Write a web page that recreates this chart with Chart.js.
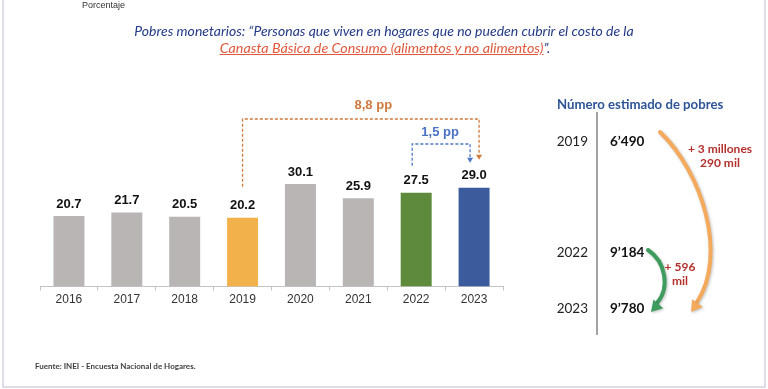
<!DOCTYPE html>
<html lang="es">
<head>
<meta charset="UTF-8">
<title>Pobres monetarios</title>
<script src="https://cdn.jsdelivr.net/npm/chart.js"></script>
<style>
  html, body { margin: 0; padding: 0; background: #fff; }
  #wrap { position: relative; width: 768px; height: 389px; overflow: hidden; }
  #frame { position: absolute; left: 2px; top: -4px; width: 760px; height: 388px; border: 2px solid #dedee6; box-sizing: content-box; }
  canvas { position: absolute; left: 0; top: 0; }
  .t { position: absolute; white-space: nowrap; font-family: Lato, sans-serif; }
</style>
</head>
<body>
<div id="wrap">
  <div id="frame"></div>
  <canvas id="povertyChart" width="768" height="389"></canvas>

  <div class="t" style="left:82px; top:0px; font:9px 'Liberation Sans', Arial; color:#333;">Porcentaje</div>
  <div class="t" style="left:0; width:768px; text-align:center; top:22px; font-style:italic; font-size:14px; color:#233a86;">Pobres monetarios: “Personas que viven en hogares que no pueden cubrir el costo de la</div>
  <div class="t" style="left:0; width:770px; text-align:center; top:39px; font-style:italic; font-size:14.3px; color:#233a86;">
    <span style="color:#e2583c; text-decoration:underline;">Canasta Básica de Consumo (alimentos y no alimentos)</span>”.
  </div>

  <div class="t" style="left:557px; top:96px; font-weight:bold; font-size:13.2px; color:#2f5597;">Número estimado de pobres</div>
  <div class="t" style="right:180px; top:133px; font-size:13.5px; color:#222;">2019</div>
  <div class="t" style="right:180px; top:244px; font-size:13.5px; color:#222;">2022</div>
  <div class="t" style="right:180px; top:300px; font-size:13.5px; color:#222;">2023</div>
  <div class="t" style="left:610px; top:133px; font-weight:bold; font-size:13.5px; color:#111;">6’490</div>
  <div class="t" style="left:610px; top:244px; font-weight:bold; font-size:13.5px; color:#111;">9’184</div>
  <div class="t" style="left:610px; top:300px; font-weight:bold; font-size:13.5px; color:#111;">9’780</div>
  <div class="t" style="left:684px; top:142px; width:72px; text-align:center; font-weight:bold; font-size:12px; line-height:14px; color:#b3302c;">+ 3 millones<br>290 mil</div>
  <div class="t" style="left:660px; top:260px; width:40px; text-align:center; font-weight:bold; font-size:12px; line-height:14px; color:#b3302c;">+ 596<br>mil</div>

  <div class="t" style="left:35px; top:361px; font-weight:bold; font-size:8px; color:#404040;">Fuente: INEI - Encuesta Nacional de Hogares.</div>
</div>

<script>
  // data
  const years = ['2016', '2017', '2018', '2019', '2020', '2021', '2022', '2023'];
  const povertyRate = [20.7, 21.7, 20.5, 20.2, 30.1, 25.9, 27.5, 29.0];
  const barColors = ['#b8b5b4', '#b8b5b4', '#b8b5b4', '#f2b14a', '#b8b5b4', '#b8b5b4', '#5e8a3c', '#3b5b9d'];
  const gapLabels = ['8,8 pp', '1,5 pp'];

  function arrowHead(ctx, x, y, angle, size, color) {
    ctx.save();
    ctx.translate(x, y);
    ctx.rotate(angle);
    ctx.fillStyle = color;
    ctx.beginPath();
    ctx.moveTo(0, 0);
    ctx.lineTo(-size, -size * 0.6);
    ctx.lineTo(-size, size * 0.6);
    ctx.closePath();
    ctx.fill();
    ctx.restore();
  }

  // value labels, dashed brackets and the curved arrows on the right
  const extras = {
    id: 'extras',
    afterDatasetsDraw(chart) {
      const ctx = chart.ctx;
      const meta = chart.getDatasetMeta(0);

      ctx.save();
      ctx.font = 'bold 13px "Liberation Sans", Arial';
      ctx.fillStyle = '#111';
      ctx.textAlign = 'center';
      ctx.textBaseline = 'middle';
      meta.data.forEach((bar, i) => {
        ctx.fillText(povertyRate[i].toFixed(1), bar.x, bar.y - 12);
      });

      // brackets
      const b19 = meta.data[3], b22 = meta.data[6], b23 = meta.data[7];
      ctx.setLineDash([3, 2]);
      ctx.lineWidth = 1.3;

      ctx.strokeStyle = '#d07a3c';
      ctx.beginPath();
      ctx.moveTo(b19.x, b19.y - 31);
      ctx.lineTo(b19.x, 119);
      ctx.lineTo(b23.x + 5, 119);
      ctx.lineTo(b23.x + 5, b23.y - 33);
      ctx.stroke();

      ctx.strokeStyle = '#4f77c4';
      ctx.beginPath();
      ctx.moveTo(b22.x - 4, b22.y - 27);
      ctx.lineTo(b22.x - 4, 144);
      ctx.lineTo(b23.x - 4, 144);
      ctx.lineTo(b23.x - 4, b23.y - 30);
      ctx.stroke();
      ctx.setLineDash([]);
      arrowHead(ctx, b23.x + 5, b23.y - 28, Math.PI / 2, 5, '#d07a3c');
      arrowHead(ctx, b23.x - 4, b23.y - 25, Math.PI / 2, 5, '#4f77c4');

      ctx.fillStyle = '#cf7a3e';
      ctx.fillText(gapLabels[0], (b19.x + b23.x) / 2 + 15, 105);
      ctx.fillStyle = '#4a72c4';
      ctx.fillText(gapLabels[1], (b22.x + b23.x) / 2 - 5, 132);

      // axis on the right
      ctx.strokeStyle = '#666';
      ctx.lineWidth = 1.2;
      ctx.beginPath();
      ctx.moveTo(597, 112);
      ctx.lineTo(597, 335);
      ctx.stroke();

      // curved arrows
      ctx.lineCap = 'round';
      ctx.shadowColor = 'rgba(0,0,0,0.25)';
      ctx.shadowBlur = 3;
      ctx.shadowOffsetX = 1;
      ctx.shadowOffsetY = 1;
      ctx.strokeStyle = '#f4aa5c';
      ctx.lineWidth = 4;
      ctx.beginPath();
      ctx.moveTo(660, 132);
      ctx.bezierCurveTo(702, 172, 728, 255, 697, 302);
      ctx.stroke();
      arrowHead(ctx, 691, 312, 2.2, 11, '#f4aa5c');

      ctx.strokeStyle = '#3f9c5f';
      ctx.beginPath();
      ctx.moveTo(648, 250);
      ctx.bezierCurveTo(666, 262, 670, 288, 657, 303);
      ctx.stroke();
      arrowHead(ctx, 651, 312, 2.3, 11, '#3f9c5f');
      ctx.restore();
    }
  };

  new Chart(document.getElementById('povertyChart'), {
    type: 'bar',
    data: {
      labels: years,
      datasets: [{
        data: povertyRate,
        backgroundColor: barColors,
        barPercentage: 0.535,
        categoryPercentage: 1
      }]
    },
    options: {
      responsive: false,
      animation: false,
      layout: { padding: { left: 40, right: 265, top: 82, bottom: 80 } },
      plugins: { legend: { display: false }, tooltip: { enabled: false } },
      scales: {
        y: { display: false, min: 0, max: 60 },
        x: {
          border: { color: '#c4c4c4' },
          grid: { offset: true, drawOnChartArea: false, tickLength: 4, color: '#c4c4c4' },
          ticks: { color: '#333', padding: 2, font: { family: '"Liberation Sans", Arial', size: 12 } }
        }
      }
    },
    plugins: [extras]
  });
</script>
</body>
</html>
